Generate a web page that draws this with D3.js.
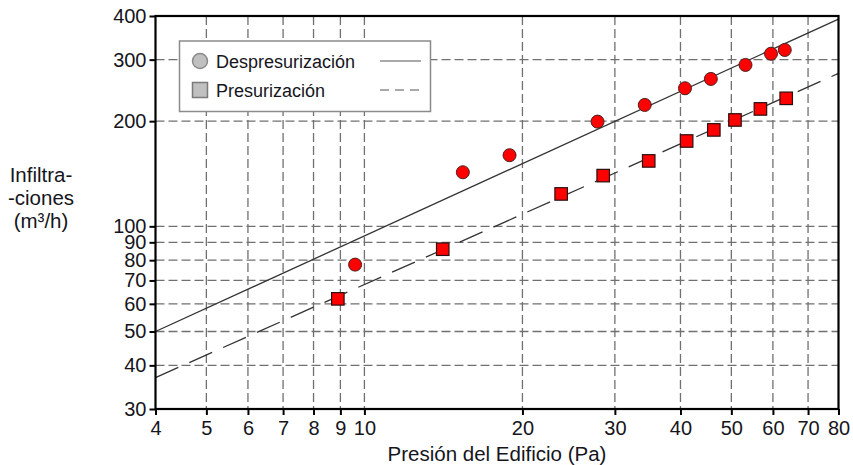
<!DOCTYPE html>
<html>
<head>
<meta charset="utf-8">
<script src="https://cdn.jsdelivr.net/npm/d3@7"></script>
<style>
  body { margin: 0; background: #fff; }
  text { font-family: "Liberation Sans", Arial, sans-serif; fill: #151520; }
</style>
</head>
<body>
<script>
(function() {
  'use strict';

  // data (log-log)
  const despX = [9.6, 15.4, 18.9, 27.8, 34.2, 40.8, 45.7, 53.2, 59.5, 63.2];
  const despY = [77.7, 142.8, 159.8, 199.4, 222.6, 248.4, 264.2, 289.7, 312, 319.8];
  const presX = [8.9, 14.1, 23.7, 28.5, 34.8, 41.1, 46.3, 50.8, 56.8, 63.6];
  const presY = [62.0, 86.0, 123.8, 139.7, 153.9, 175.5, 188.8, 201.6, 216.8, 232.5];

  // fitted lines, end points at the axis limits
  const fitX = [4, 80];
  const despFit = [50, 392];
  const presFit = [36.9, 274];

  const xTicks = [4, 5, 6, 7, 8, 9, 10, 20, 30, 40, 50, 60, 70, 80];
  const yTicks = [30, 40, 50, 60, 70, 80, 90, 100, 200, 300, 400];
  const series = ['Despresurización', 'Presurización'];

  const w = 853;
  const h = 465;
  const left = 155.5, right = 838.5, top = 16, bottom = 409;

  const xScale = d3.scaleLog().domain([4, 80]).range([left, right]);
  const yScale = d3.scaleLog().domain([30, 400]).range([bottom, top]);

  const svg = d3.select('body')
    .append('svg')
    .attr('width', w)
    .attr('height', h);

  // grid
  const grid = svg.append('g')
    .attr('stroke', '#707070')
    .attr('stroke-width', 1.3)
    .attr('stroke-dasharray', '9,4');

  grid.selectAll('.vg')
    .data(xTicks.slice(1, -1))
    .enter()
    .append('line')
    .attr('x1', d => xScale(d))
    .attr('x2', d => xScale(d))
    .attr('y1', top)
    .attr('y2', bottom);

  grid.selectAll('.hg')
    .data(yTicks.slice(1, -1))
    .enter()
    .append('line')
    .attr('x1', left)
    .attr('x2', right)
    .attr('y1', d => yScale(d))
    .attr('y2', d => yScale(d));

  // fitted lines
  const line = d3.line()
    .x(d => xScale(d[0]))
    .y(d => yScale(d[1]));

  svg.append('defs').append('clipPath')
    .attr('id', 'plot')
    .append('rect')
    .attr('x', left).attr('y', top)
    .attr('width', right - left).attr('height', bottom - top);

  svg.append('path')
    .datum(fitX.map((x, i) => [x, despFit[i]]))
    .attr('d', line)
    .attr('clip-path', 'url(#plot)')
    .attr('fill', 'none')
    .attr('stroke', '#333')
    .attr('stroke-width', 1.3);

  svg.append('path')
    .datum(fitX.map((x, i) => [x, presFit[i]]))
    .attr('d', line)
    .attr('clip-path', 'url(#plot)')
    .attr('fill', 'none')
    .attr('stroke', '#333')
    .attr('stroke-width', 1.3)
    .attr('stroke-dasharray', '25,12');

  // points
  svg.selectAll('.desp')
    .data(despX.map((x, i) => [x, despY[i]]))
    .enter()
    .append('circle')
    .attr('cx', d => xScale(d[0]))
    .attr('cy', d => yScale(d[1]))
    .attr('r', 6.5)
    .attr('fill', '#ff0000')
    .attr('stroke', '#4a2020')
    .attr('stroke-width', 1);

  const sq = 12.5;
  svg.selectAll('.pres')
    .data(presX.map((x, i) => [x, presY[i]]))
    .enter()
    .append('rect')
    .attr('x', d => xScale(d[0]) - sq / 2)
    .attr('y', d => yScale(d[1]) - sq / 2)
    .attr('width', sq)
    .attr('height', sq)
    .attr('fill', '#ff0000')
    .attr('stroke', '#2a1010')
    .attr('stroke-width', 1.2);

  // axes
  const xAxis = d3.axisBottom(xScale)
    .tickValues(xTicks)
    .tickFormat(d3.format('d'))
    .tickSize(6)
    .tickPadding(6);
  const gx = svg.append('g')
    .attr('transform', 'translate(0,' + bottom + ')')
    .call(xAxis);

  const yAxis = d3.axisLeft(yScale)
    .tickValues(yTicks)
    .tickFormat(d3.format('d'))
    .tickSize(6)
    .tickPadding(3);
  const gy = svg.append('g')
    .attr('transform', 'translate(' + left + ',0)')
    .call(yAxis);

  [gx, gy].forEach(g => {
    g.select('.domain').remove();
    g.selectAll('.tick line').attr('stroke', '#000').attr('stroke-width', 2);
    g.selectAll('.tick text')
      .attr('fill', '#151520')
      .style('font-family', '"Liberation Sans", Arial, sans-serif')
      .style('font-size', '20px');
  });

  // frame
  svg.append('rect')
    .attr('x', left).attr('y', top)
    .attr('width', right - left).attr('height', bottom - top)
    .attr('fill', 'none')
    .attr('stroke', '#000')
    .attr('stroke-width', 2.2);

  // axis titles
  svg.append('text')
    .attr('x', (left + right) / 2)
    .attr('y', 461)
    .attr('text-anchor', 'middle')
    .style('font-size', '20.5px')
    .text('Presión del Edificio (Pa)');

  const yLabel = ['Infiltra-', '-ciones', '(m³/h)'];
  svg.append('text')
    .attr('text-anchor', 'middle')
    .style('font-size', '20.5px')
    .selectAll('tspan')
    .data(yLabel)
    .enter()
    .append('tspan')
    .attr('x', 41)
    .attr('y', (d, i) => 182 + i * 23)
    .text(d => d);

  // legend
  const lg = svg.append('g');
  lg.append('rect')
    .attr('x', 179.5).attr('y', 41)
    .attr('width', 251).attr('height', 70.5)
    .attr('fill', '#fff')
    .attr('stroke', '#8a8a8a')
    .attr('stroke-width', 1.5);

  const rowY = [61, 90];
  lg.append('circle')
    .attr('cx', 200).attr('cy', rowY[0]).attr('r', 7.5)
    .attr('fill', '#c0c0c0').attr('stroke', '#8a8a8a').attr('stroke-width', 1.5);
  lg.append('rect')
    .attr('x', 192.5).attr('y', rowY[1] - 7.5)
    .attr('width', 15).attr('height', 15)
    .attr('fill', '#c0c0c0').attr('stroke', '#7a7a7a').attr('stroke-width', 1.5);

  lg.selectAll('.lt')
    .data(series)
    .enter()
    .append('text')
    .attr('x', 216)
    .attr('y', (d, i) => rowY[i] + 6.5)
    .style('font-size', '18px')
    .text(d => d);

  lg.selectAll('.ll')
    .data(series)
    .enter()
    .append('line')
    .attr('x1', 380).attr('x2', 421)
    .attr('y1', (d, i) => rowY[i])
    .attr('y2', (d, i) => rowY[i])
    .attr('stroke', '#555')
    .attr('stroke-width', 1)
    .attr('stroke-dasharray', (d, i) => i === 0 ? null : '9,6');
}());
</script>
</body>
</html>
